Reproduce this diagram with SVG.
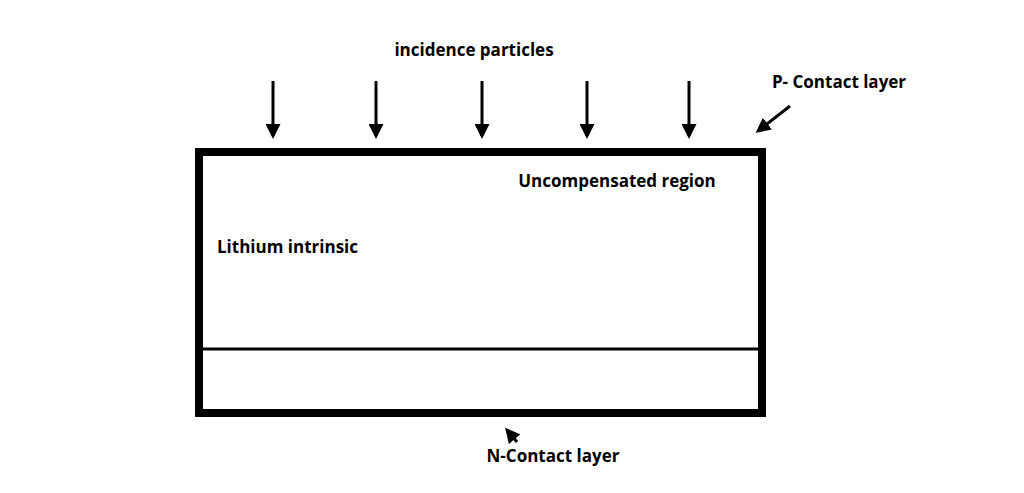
<svg xmlns="http://www.w3.org/2000/svg" width="1024" height="493" viewBox="0 0 1024 493">
<style>
text{font-family:"Open Sans","Liberation Sans",sans-serif;font-weight:bold;font-size:17px;fill:#000}
.ln{stroke:#000;stroke-width:3;fill:none}
</style>
<defs><marker id="ah" markerWidth="5" markerHeight="5" refX="4" refY="2.5" orient="auto" markerUnits="strokeWidth"><path d="M0,0L5,2.5L0,5Z" fill="#000"/></marker></defs>
<rect x="0" y="0" width="1024" height="493" fill="#fff"/>
<g id="detector">
<rect x="199" y="152" width="563" height="261" fill="none" stroke="#000" stroke-width="8"/>
<line x1="203" y1="349" x2="758" y2="349" stroke="#000" stroke-width="3"/>
</g>
<g id="connectors">
<line class="ln" x1="273" y1="81" x2="273" y2="136" marker-end="url(#ah)"/>
<line class="ln" x1="376" y1="81" x2="376" y2="136" marker-end="url(#ah)"/>
<line class="ln" x1="482" y1="81" x2="482" y2="136" marker-end="url(#ah)"/>
<line class="ln" x1="587" y1="81" x2="587" y2="136" marker-end="url(#ah)"/>
<line class="ln" x1="689" y1="81" x2="689" y2="136" marker-end="url(#ah)"/>
<line class="ln" x1="790" y1="106" x2="758" y2="131" marker-end="url(#ah)"/>
<line class="ln" x1="517" y1="442" x2="507" y2="430" marker-end="url(#ah)"/>
</g>
<g id="labels">
<text x="474" y="56" text-anchor="middle">incidence particles</text>
<text x="839" y="88" text-anchor="middle">P- Contact layer</text>
<text x="617" y="187" text-anchor="middle">Uncompensated region</text>
<text x="217" y="253">Lithium intrinsic</text>
<text x="553" y="462" text-anchor="middle">N-Contact layer</text>
</g>
</svg>
